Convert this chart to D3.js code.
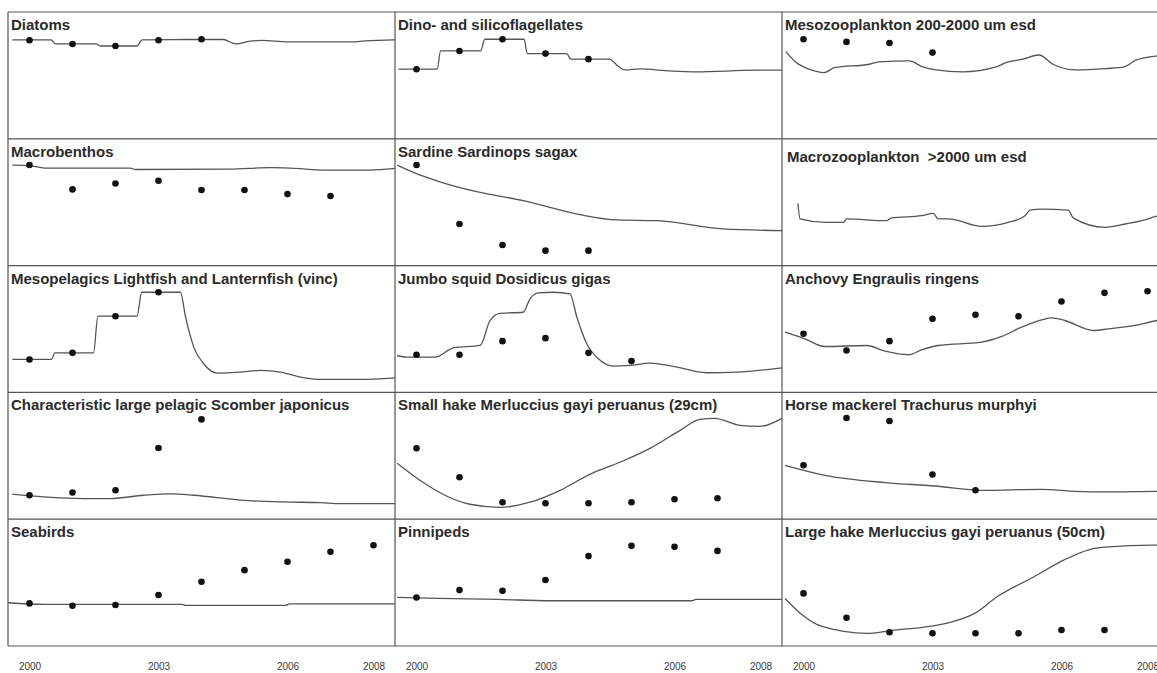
<!DOCTYPE html>
<html>
<head>
<meta charset="utf-8">
<script src="https://cdn.jsdelivr.net/npm/d3@7"></script>
<style>
  body { margin: 0; background: #fff; }
  svg { display: block; }
  .title { font-family: "Liberation Sans", Arial, sans-serif; font-weight: bold; font-size: 15px; fill: #2b2b2b; white-space: pre; }
  .tick text { font-family: "Liberation Sans", Arial, sans-serif; font-size: 10px; fill: #3a3a3a; }
</style>
</head>
<body>
<svg id="chart" width="1157" height="673"></svg>
<script>
var width = 1157,
    height = 673,
    left = 8,
    top0 = 12,
    colW = 387,
    rowH = 126.8

var tickYears = [2000, 2003, 2006, 2008]

var titles = [
  "Diatoms", "Dino- and silicoflagellates", "Mesozooplankton 200-2000 um esd",
  "Macrobenthos", "Sardine Sardinops sagax", "Macrozooplankton  >2000 um esd",
  "Mesopelagics Lightfish and Lanternfish (vinc)", "Jumbo squid Dosidicus gigas", "Anchovy Engraulis ringens",
  "Characteristic large pelagic Scomber japonicus", "Small hake Merluccius gayi peruanus (29cm)", "Horse mackerel Trachurus murphyi",
  "Seabirds", "Pinnipeds", "Large hake Merluccius gayi peruanus (50cm)"
]

// observations, one value per year from 2000 (relative scale 0-100)
var diatomsObs = [77.7, 74.8, 73.2, 77.7, 78.5]
var dinoObs = [54.9, 69.3, 78.5, 67.2, 62.8]
var mesozooObs = [78.5, 76.4, 75.6, 68.0]
var macrobenthosObs = [79.3, 60.1, 64.8, 66.9, 59.6, 59.6, 56.4, 54.9]
var sardineObs = [79.3, 32.8, 16.3, 11.8, 11.8]
var macrozooObs = []
var mesopelagicObs = [26.0, 31.2, 60.1, 79.0]
var squidObs = [29.7, 29.7, 40.4, 42.8, 31.2, 24.7]
var anchovyObs = [46.2, 33.1, 40.4, 58.0, 61.2, 60.1, 71.7, 78.5, 79.8]
var scomberObs = [18.9, 21.0, 22.8, 56.1, 78.7]
var smallHakeObs = [55.9, 33.1, 13.4, 12.6, 12.6, 13.4, 15.7, 16.5]
var horseMackerelObs = [42.5, 79.8, 77.4, 35.2, 22.8]
var seabirdsObs = [33.6, 31.7, 32.3, 40.2, 50.7, 59.8, 66.4, 74.3, 79.5]
var pinnipedsObs = [38.3, 44.1, 43.6, 52.0, 70.9, 79.0, 78.2, 75.0]
var largeHakeObs = [41.5, 22.3, 10.8, 10.0, 10.0, 10.0, 12.6, 12.6]

// model runs, [year, value]
var diatomsModel = [[1999.6,78.0],[2000.5,78.0],[2000.6,74.8],[2001.55,74.8],[2001.65,73.2],[2002.5,73.2],[2002.62,78.0],[2003.6,78.3],[2004.5,78.3],[2004.8,74.8],[2005.1,76.8],[2005.4,77.6],[2006.0,76.4],[2007.5,76.4],[2007.8,77.2],[2008.5,78.0]]
var dinoModel = [[1999.58,54.9],[2000.48,54.9],[2000.56,69.3],[2001.49,69.3],[2001.59,78.5],[2002.5,78.5],[2002.58,67.2],[2003.49,67.2],[2003.59,62.8],[2004.48,62.8],[2004.7,57],[2004.85,54.3],[2005.2,55.1],[2005.9,53.5],[2006.5,52.8],[2007.9,54.1],[2008.5,54.1]]
var mesozooModel = [[1999.59,68.7],[1999.83,60.1],[2000.13,54.9],[2000.48,52.2],[2000.72,56.1],[2001.53,58.8],[2001.76,60.6],[2002.46,61.4],[2002.77,56.7],[2003.08,54.3],[2003.7,52.8],[2004.48,56.7],[2004.71,60.1],[2005.1,62.8],[2005.48,66.1],[2005.8,58.8],[2006.34,54.3],[2007.03,55.4],[2007.46,56.7],[2007.73,62.0],[2008.24,65.4],[2008.5,66.0]]
var macrobenthosModel = [[1999.6,79.3],[2000.0,78.8],[2000.4,76.9],[2002.35,76.9],[2002.45,75.8],[2004.65,76.1],[2005.6,77.2],[2006.05,76.9],[2006.9,75.3],[2007.9,75.3],[2008.5,76.6]]
var sardineModel = [[1999.55,79.3],[1999.93,73.5],[2000.47,66.9],[2001.4,58.3],[2002.48,51.2],[2003.8,40.2],[2004.66,36.0],[2005.59,35.4],[2007.13,28.9],[2008.5,27.6]]
var macrozooModel = [[1999.87,49.1],[1999.92,36.8],[2000.5,34.1],[2000.93,34.1],[2001.0,36.8],[2001.93,35.4],[2002.05,37.6],[2002.75,39.4],[2003.02,41.2],[2003.13,36.8],[2003.37,36.8],[2004.14,30.9],[2004.76,34.1],[2005.15,39.4],[2005.27,43.8],[2005.54,44.6],[2006.16,43.8],[2006.27,37.6],[2007.01,30.2],[2007.48,32.8],[2008.02,36.8],[2008.17,38.6],[2008.5,40.0]]
var mesopelagicModel = [[1999.6,26.0],[2000.51,26.0],[2000.59,31.2],[2001.49,31.2],[2001.59,60.1],[2002.5,60.1],[2002.61,79.0],[2003.51,79.0],[2003.63,59.3],[2003.82,35.7],[2004.05,22.6],[2004.37,15.2],[2004.9,16.0],[2005.37,17.3],[2005.84,16.0],[2006.3,12.1],[2006.77,10.2],[2007.7,10.2],[2008.5,11.5]]
var squidModel = [[1999.55,29.1],[1999.77,27.8],[2000.43,27.8],[2000.86,35.2],[2001.48,37.0],[2001.71,56.7],[2001.94,62.4],[2002.48,63.2],[2002.64,73.8],[2002.83,78.5],[2003.18,79.0],[2003.57,77.7],[2003.73,59.3],[2003.96,38.3],[2004.23,26.5],[2004.58,20.7],[2004.97,21.3],[2005.43,23.1],[2005.97,20.5],[2006.75,15.5],[2007.45,16.0],[2008.5,19.4]]
var anchovyModel = [[1999.57,47.5],[2000.03,42.3],[2000.5,36.2],[2001.47,37.0],[2001.9,32.5],[2002.44,29.7],[2002.75,33.6],[2003.13,37.0],[2004.14,39.6],[2004.61,44.1],[2005.07,51.4],[2005.54,57.2],[2005.77,58.8],[2006.08,56.7],[2006.74,48.8],[2007.09,50.1],[2007.71,52.8],[2008.22,56.7],[2008.5,58.0]]
var scomberModel = [[1999.6,19.7],[2000.33,17.6],[2001.26,16.3],[2001.88,16.3],[2002.66,18.9],[2003.28,19.9],[2003.82,18.9],[2004.91,15.0],[2005.91,13.6],[2006.77,13.1],[2007.23,12.3],[2008.5,12.3]]
var smallHakeModel = [[1999.55,44.1],[2000.08,30.7],[2000.66,18.9],[2001.24,11.8],[2001.94,9.4],[2002.64,13.4],[2003.34,22.8],[2004.03,35.4],[2004.73,44.9],[2005.43,55.9],[2006.13,70.1],[2006.59,78.7],[2006.94,79.5],[2007.52,74.0],[2007.99,73.2],[2008.5,79.5]]
var horseMackerelModel = [[1999.57,42.5],[2000.5,34.6],[2001.9,28.9],[2003.06,26.2],[2004.14,22.8],[2005.54,23.6],[2006.31,22.0],[2007.09,21.5],[2008.22,22.0],[2008.5,22.0]]
var seabirdsModel = [[1999.5,34.1],[2000.35,32.8],[2003.55,32.8],[2003.62,32.0],[2005.95,32.0],[2006.05,33.3],[2008.5,33.3]]
var pinnipedsModel = [[1999.55,38.3],[2000.5,37.5],[2001.9,36.7],[2003.1,35.7],[2006.4,35.7],[2006.5,36.7],[2008.5,36.7]]
var largeHakeModel = [[1999.57,37.5],[1999.93,25.7],[2000.45,15.2],[2001.48,10.0],[2001.99,12.0],[2003.46,19.1],[2003.98,25.7],[2004.5,38.8],[2005.36,54.6],[2006.05,67.7],[2006.65,76.1],[2007.08,78.2],[2008.1,79.5],[2008.5,79.5]]

var observed = [diatomsObs, dinoObs, mesozooObs, macrobenthosObs, sardineObs, macrozooObs,
  mesopelagicObs, squidObs, anchovyObs, scomberObs, smallHakeObs, horseMackerelObs,
  seabirdsObs, pinnipedsObs, largeHakeObs]
var models = [diatomsModel, dinoModel, mesozooModel, macrobenthosModel, sardineModel, macrozooModel,
  mesopelagicModel, squidModel, anchovyModel, scomberModel, smallHakeModel, horseMackerelModel,
  seabirdsModel, pinnipedsModel, largeHakeModel]

var svg = d3.select("#chart")

var panels = titles.map(function(t, i) {
  return { title: t, col: i % 3, row: Math.floor(i / 3), obs: observed[i], model: models[i] }
})

panels.forEach(function(p) {
  var x0 = left + p.col * colW,
      y0 = top0 + p.row * rowH

  var x = d3.scaleLinear().domain([1999.5, 2008.5]).range([x0, x0 + colW])
  var y = d3.scaleLinear().domain([0, 100]).range([y0 + rowH, y0])

  var g = svg.append("g")

  var line = d3.line()
    .x(function(d) { return x(d[0]) })
    .y(function(d) { return y(d[1]) })
    .curve(d3.curveMonotoneX)

  g.append("path")
    .datum(p.model)
    .attr("d", line)
    .attr("fill", "none")
    .attr("stroke", "#555")
    .attr("stroke-width", 1.3)

  g.selectAll("circle")
    .data(p.obs)
    .enter()
    .append("circle")
      .attr("cx", function(d, i) { return x(2000 + i) })
      .attr("cy", function(d) { return y(d) })
      .attr("r", 3.3)
      .attr("fill", "#111")

  var shifted = p.title.indexOf("Macrozoo") == 0
  g.append("text")
    .attr("class", "title")
    .attr("x", x0 + (shifted ? 5 : 3))
    .attr("y", y0 + (shifted ? 23.5 : 18))
    .text(p.title)

  if (p.row == 4) {
    var axis = d3.axisBottom(x)
      .tickValues(tickYears)
      .tickFormat(d3.format("d"))
      .tickSize(0)
      .tickPadding(3)
    var ag = svg.append("g")
      .attr("transform", "translate(0," + 660 + ")")
      .call(axis)
    ag.select(".domain").remove()
  }
})

// panel frame
var gridColor = "#555"
for (var r = 0; r <= 5; r++) {
  svg.append("line")
    .attr("x1", left).attr("x2", width)
    .attr("y1", top0 + r * rowH).attr("y2", top0 + r * rowH)
    .attr("stroke", gridColor).attr("stroke-width", 1.2)
}
for (var c = 0; c <= 2; c++) {
  svg.append("line")
    .attr("x1", left + c * colW).attr("x2", left + c * colW)
    .attr("y1", top0).attr("y2", top0 + 5 * rowH)
    .attr("stroke", gridColor).attr("stroke-width", 1.2)
}
</script>
</body>
</html>
